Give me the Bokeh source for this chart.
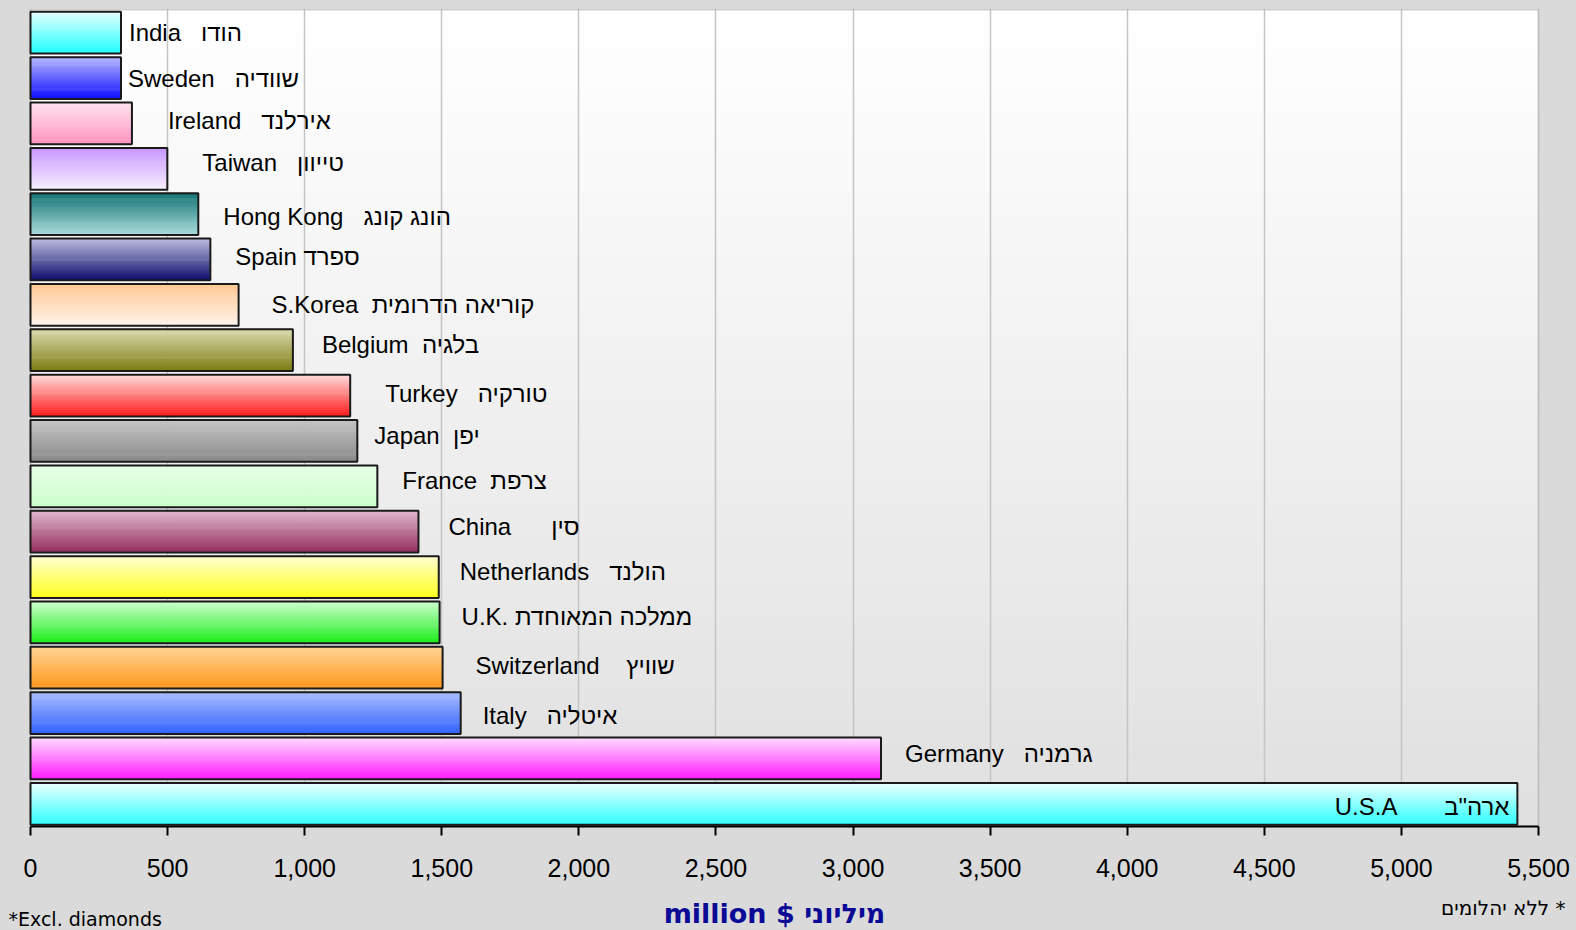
import numpy as np
from bokeh.plotting import figure
from bokeh.layouts import column
from bokeh.models import ColumnDataSource, Range1d, FixedTicker, NumeralTickFormatter, BoxAnnotation
from bokeh.core.properties import value
from bokeh.embed import file_html
from bokeh.resources import INLINE

# ---------------- data (top to bottom) ----------------
countries_en = ["India", "Sweden", "Ireland", "Taiwan", "Hong Kong", "Spain", "S.Korea",
                "Belgium", "Turkey", "Japan", "France", "China", "Netherlands", "U.K.",
                "Switzerland", "Italy", "Germany", "U.S.A"]
countries_he = ["הודו", "שוודיה", "אירלנד", "טייוון", "הונג קונג", "ספרד", "קוריאה הדרומית",
                "בלגיה", "טורקיה", "יפן", "צרפת", "סין", "הולנד", "ממלכה המאוחדת",
                "שוויץ", "איטליה", "גרמניה", "ארה\"ב"]
exports_musd = [330, 330, 370, 499, 612, 656, 759, 957, 1166, 1192, 1265, 1415,
                1489, 1492, 1503, 1569, 3102, 5423]
x_ticks = [0, 500, 1000, 1500, 2000, 2500, 3000, 3500, 4000, 4500, 5000, 5500]
footer_left = "*Excl. diamonds"
footer_center = "million $ מיליוני"
footer_right = "ללא יהלומים *"

# ---------------- styling / layout ----------------
top_colors = ["#e4ffff", "#b8b8ff", "#ffe4ee", "#c896ff", "#157575", "#bcbce0", "#ffc894",
              "#dadaae", "#ffdcdc", "#c4c4c4", "#e6ffe6", "#e0b8cc", "#ffffd0", "#ccffcc",
              "#ffd494", "#a8bcff", "#ffdcff", "#eaffff"]
bottom_colors = ["#22ffff", "#1010ff", "#ff94c0", "#f6eeff", "#a8dada", "#10106e", "#fff2e8",
                 "#7e7e14", "#ff1e1e", "#8a8a8a", "#ccffcc", "#963060", "#ffff1e", "#1eee1e",
                 "#ff981e", "#3464ff", "#ff1eff", "#30ffff"]
gap_spaces = [3, 3, 3, 3, 3, 1, 2, 2, 3, 2, 2, 6, 3, 1, 4, 3, 3, 7]
label_dx = [8, 7, 36, 35, 25, 25, 33, 29, 35, 17, 25, 30, 21, 22, 33, 22, 24, -8]
label_dy = [0, 0, -3, -6, 2, -3, 0, -6, -2, -5, -6, -5, -6, -6, -2, 2, -5, 3]
inside_label = [False] * 17 + [True]
PAGE_BG = "#dadada"
W = 1576
MAIN_H = 888
FOOT_H = 930 - MAIN_H
PLOT_LEFT_PX, PLOT_RIGHT_PX = 30, 1538      # where 0 and 5500 sit on the page
PLOT_TOP_PX, PLOT_BOTTOM_PX = 9, 826

n = len(countries_en)
ypos = [n - 1 - i for i in range(n)]
BAR_H = 0.92
N_STRIPS = 40
X_MIN, X_MAX = x_ticks[0], x_ticks[-1]
ppu = (PLOT_RIGHT_PX - PLOT_LEFT_PX) / (X_MAX - X_MIN)
x_start = X_MIN - PLOT_LEFT_PX / ppu
x_end = X_MAX + (W - PLOT_RIGHT_PX) / ppu
ppu_y = (PLOT_BOTTOM_PX - PLOT_TOP_PX) / n
Y_TOP = n - 0.5
y_end = Y_TOP + 1.5 / ppu_y      # a little room so the top border line shows fully


def hex2rgb(h):
    h = h.lstrip("#")
    return np.array([int(h[k:k + 2], 16) for k in (0, 2, 4)], dtype=float)


def rgb2hex(c):
    c = np.clip(np.round(c), 0, 255).astype(int)
    return "#%02x%02x%02x" % tuple(c)


p = figure(width=W, height=MAIN_H, output_backend="svg", toolbar_location=None,
           x_range=Range1d(x_start, x_end), y_range=Range1d(-0.5, y_end),
           y_axis_location=None, min_border_left=0, min_border_right=0,
           min_border_top=PLOT_TOP_PX - 1, min_border_bottom=MAIN_H - PLOT_BOTTOM_PX)
p.border_fill_color = PAGE_BG
p.background_fill_color = PAGE_BG
p.outline_line_color = None

# plot-area background gradient (white top -> light grey bottom)
bg_top = hex2rgb("#ffffff")
bg_bot = hex2rgb("#e0e0e0")
NB = 40
for k in range(NB):
    t = k / (NB - 1)
    y_hi = Y_TOP - k * n / NB
    y_lo = max(y_hi - n / NB - 0.02, -0.5)
    p.add_layout(BoxAnnotation(left=X_MIN, right=X_MAX, bottom=y_lo, top=y_hi,
                               fill_color=rgb2hex(bg_top + (bg_bot - bg_top) * t),
                               fill_alpha=1, line_alpha=0, level="image"))
p.add_layout(BoxAnnotation(left=X_MIN, right=X_MAX, bottom=-0.5, top=Y_TOP, fill_alpha=0,
                           line_color="#b4b4b4", line_width=2, level="underlay"))

# gradient bars as stacked horizontal strips
sy, sr, sh, sc = [], [], [], []
for i in range(n):
    ct = hex2rgb(top_colors[i])
    cb = hex2rgb(bottom_colors[i])
    for k in range(N_STRIPS):
        t = k / (N_STRIPS - 1)
        sy.append(ypos[i] + BAR_H / 2 - (k + 0.5) * BAR_H / N_STRIPS)
        sr.append(exports_musd[i])
        sh.append(BAR_H / N_STRIPS * 1.6)
        sc.append(rgb2hex(ct + (cb - ct) * t))
strip_src = ColumnDataSource(dict(y=sy, right=sr, height=sh, color=sc))
p.hbar(y="y", left=0, right="right", height="height", fill_color="color", line_color=None,
       source=strip_src)

bar_src = ColumnDataSource(dict(y=ypos, right=exports_musd))
p.hbar(y="y", left=0, right="right", height=BAR_H, fill_color=None, line_color="#1a1a1a",
       line_width=2, source=bar_src)

# labels
labels = [en + "\u00a0" * g + he for en, he, g in zip(countries_en, countries_he, gap_spaces)]
out_idx = [i for i in range(n) if not inside_label[i]]
in_idx = [i for i in range(n) if inside_label[i]]
for idx, align in ((out_idx, "left"), (in_idx, "right")):
    src = ColumnDataSource(dict(x=[exports_musd[i] for i in idx], y=[ypos[i] for i in idx],
                                text=[labels[i] for i in idx], dx=[label_dx[i] for i in idx],
                                dy=[label_dy[i] for i in idx]))
    p.text(x="x", y="y", text="text", x_offset="dx", y_offset="dy", source=src,
           text_font=value("Liberation Sans"), text_font_size="24px", text_color="#000000",
           text_align=align, text_baseline="middle")

# axes & grid
p.xgrid.grid_line_color = "#c4c4c4"
p.xgrid.grid_line_width = 1.5
p.ygrid.visible = False
xa = p.xaxis[0]
xa.ticker = FixedTicker(ticks=x_ticks)
xa.bounds = (X_MIN, X_MAX)
xa.formatter = NumeralTickFormatter(format="0,0")
xa.axis_line_color = "#000000"
xa.axis_line_width = 2
xa.major_tick_line_color = "#000000"
xa.major_tick_line_width = 2
xa.major_tick_out = 9
xa.major_tick_in = 0
xa.minor_tick_line_color = None
xa.major_label_text_font = "Liberation Sans"
xa.major_label_text_font_size = "25px"
xa.major_label_text_color = "#000000"
xa.major_label_standoff = 23

# footer strip with notes and unit label (coordinates in page pixels)
f = figure(width=W, height=FOOT_H, output_backend="svg", toolbar_location=None,
           x_range=Range1d(0, W), y_range=Range1d(0, FOOT_H),
           x_axis_location=None, y_axis_location=None,
           min_border_left=0, min_border_right=0, min_border_top=0, min_border_bottom=0)
f.border_fill_color = PAGE_BG
f.background_fill_color = PAGE_BG
f.outline_line_color = None
f.xgrid.visible = False
f.ygrid.visible = False
f.text(x=[8], y=[12], text=[footer_left], text_font=value("DejaVu Sans"), text_font_size="19px",
       text_color="#000000", text_align="left", text_baseline="middle")
f.text(x=[774], y=[17], text=[footer_center], text_font=value("DejaVu Sans"), text_font_size="27px",
       text_font_style="bold", text_color="#0a0a96", text_align="center", text_baseline="middle")
f.text(x=[1565], y=[23], text=[footer_right], text_font=value("DejaVu Sans"), text_font_size="20px",
       text_color="#000000", text_align="right", text_baseline="middle")

layout = column(p, f, spacing=0)
html = file_html(layout, INLINE)
html = html.replace("</head>", "<style>html,body{background-color:%s;}</style></head>" % PAGE_BG, 1)
open("out.html", "w").write(html)
